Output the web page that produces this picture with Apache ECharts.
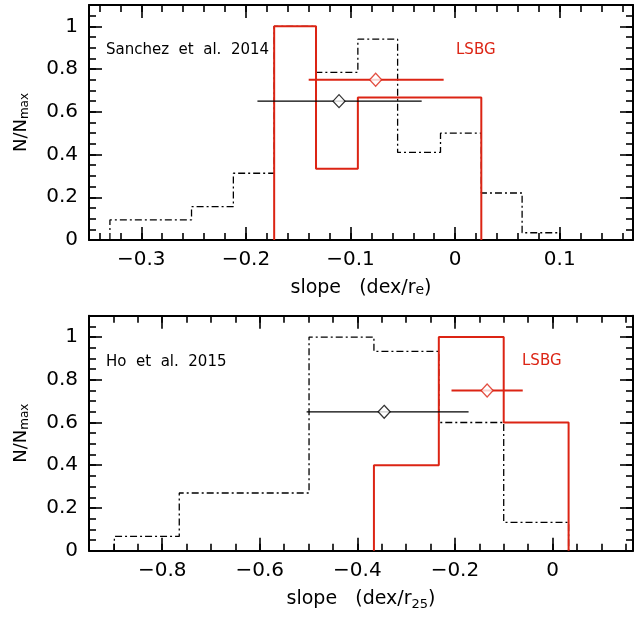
<!DOCTYPE html>
<html>
<head>
<meta charset="utf-8">
<script src="https://cdn.jsdelivr.net/npm/echarts@6/dist/echarts.min.js"></script>
<style>
html,body{margin:0;padding:0;background:#fff;}
#chart{width:635px;height:619px;}
</style>
</head>
<body>
<div id="chart"></div>
<script>
// ---------- data ----------
// Top panel (Sanchez et al. 2014)
const topBlackEdges = [-0.330, -0.252, -0.212, -0.173, -0.133, -0.093, -0.055, -0.014, 0.025, 0.064, 0.100];
const topBlackHeights = [0.094, 0.156, 0.3125, 1.0, 0.785, 0.94, 0.41, 0.50, 0.22, 0.034];
const topRedEdges = [-0.173, -0.133, -0.093, 0.025];
const topRedHeights = [1.0, 0.333, 0.667];
const topBlackErr = {lo: -0.189, mid: -0.111, hi: -0.032, y: 0.65};
const topRedErr = {lo: -0.140, mid: -0.076, hi: -0.011, y: 0.75};
const topXTicks = [-0.3, -0.2, -0.1, 0, 0.1];

// Bottom panel (Ho et al. 2015)
const botBlackEdges = [-0.898, -0.765, -0.499, -0.366, -0.233, -0.100, 0.033];
const botBlackHeights = [0.067, 0.27, 1.0, 0.933, 0.60, 0.133];
const botRedEdges = [-0.366, -0.233, -0.100, 0.033];
const botRedHeights = [0.40, 1.0, 0.60];
const botBlackErr = {lo: -0.504, mid: -0.345, hi: -0.172, y: 0.65};
const botRedErr = {lo: -0.207, mid: -0.134, hi: -0.061, y: 0.75};
const botXTicks = [-0.8, -0.6, -0.4, -0.2, 0];

const yTicks = [0, 0.2, 0.4, 0.6, 0.8, 1];

// ---------- helpers ----------
const RED = '#dc2414';
const FONT = 'DejaVu Sans';
function histPts(edges, h) {
  const pts = [[edges[0], 0]];
  for (let i = 0; i < h.length; i++) {
    pts.push([edges[i], h[i]]);
    pts.push([edges[i + 1], h[i]]);
  }
  pts.push([edges[edges.length - 1], 0]);
  return pts;
}
function steps(a, b, s) {
  const out = [];
  const n = Math.round((b - a) / s);
  for (let i = 0; i <= n; i++) out.push(+(a + i * s).toFixed(4));
  return out;
}
function fmt(v) {
  if (Math.abs(v) < 1e-9) return '0';
  const s = String(Math.abs(+v.toFixed(2)));
  return (v < 0 ? '\u2212' : '') + s;
}

const panels = [
  {top: 5, xmin: -0.35, xmax: 0.17, majors: topXTicks, minors: steps(-0.34, 0.16, 0.02),
   bE: topBlackEdges, bH: topBlackHeights, rE: topRedEdges, rH: topRedHeights,
   bErr: topBlackErr, rErr: topRedErr,
   name: '{a|slope   (dex/r}{e|e}{a|)}', nameGap: 39},
  {top: 315.7, xmin: -0.95, xmax: 0.165, majors: botXTicks, minors: steps(-0.95, 0.15, 0.05),
   bE: botBlackEdges, bH: botBlackHeights, rE: botRedEdges, rH: botRedHeights,
   bErr: botBlackErr, rErr: botRedErr,
   name: '{a|slope   (dex/r}{s|25}{a|)}', nameGap: 37}
];
const yMinors = steps(0, 1.1, 0.05);

const grid = [], xAxis = [], yAxis = [], series = [];
const axLine = {show: true, onZero: false, lineStyle: {color: '#000', width: 2}};
const noLine = {show: false, onZero: false};
const tickStyle = {color: '#000', width: 1.6};
panels.forEach((p, gi) => {
  grid.push({left: 89, top: p.top, width: 544, height: 235});
  const xBase = {type: 'value', gridIndex: gi, min: p.xmin, max: p.xmax, splitLine: {show: false}};
  const xb = xAxis.length;
  xAxis.push(Object.assign({}, xBase, {
    position: 'bottom', axisLine: axLine,
    axisTick: {show: true, inside: true, length: 13, customValues: p.majors, lineStyle: tickStyle},
    axisLabel: {show: true, customValues: p.majors, formatter: fmt, margin: 10, color: '#000', fontSize: 20, fontFamily: FONT},
    name: p.name, nameLocation: 'middle', nameGap: p.nameGap,
    nameTextStyle: {color: '#000', rich: {
      a: {fontSize: 19, fontFamily: FONT, color: '#000'},
      e: {fontSize: 14, fontFamily: FONT, color: '#000', padding: [4, 0, 0, 0]},
      s: {fontSize: 13, fontFamily: FONT, color: '#000', padding: [10, 0, 0, 0]}
    }}
  }));
  xAxis.push(Object.assign({}, xBase, {
    position: 'bottom', axisLine: noLine,
    axisTick: {show: true, inside: true, length: 7, customValues: p.minors, lineStyle: tickStyle},
    axisLabel: {show: false}
  }));
  xAxis.push(Object.assign({}, xBase, {
    position: 'top', axisLine: axLine,
    axisTick: {show: true, inside: true, length: 13, customValues: p.majors, lineStyle: tickStyle},
    axisLabel: {show: false}
  }));
  xAxis.push(Object.assign({}, xBase, {
    position: 'top', axisLine: noLine,
    axisTick: {show: true, inside: true, length: 7, customValues: p.minors, lineStyle: tickStyle},
    axisLabel: {show: false}
  }));
  const yBase = {type: 'value', gridIndex: gi, min: 0, max: 1.1, splitLine: {show: false}};
  const yb = yAxis.length;
  yAxis.push(Object.assign({}, yBase, {
    position: 'left', axisLine: axLine,
    axisTick: {show: true, inside: true, length: 13, customValues: yTicks, lineStyle: tickStyle},
    axisLabel: {show: true, customValues: yTicks, formatter: fmt, margin: 11, color: '#000', fontSize: 20, fontFamily: FONT},
    name: '{a|N/N}{s|max}', nameLocation: 'middle', nameGap: 58, nameRotate: 90,
    nameTextStyle: {color: '#000', rich: {
      a: {fontSize: 18, fontFamily: FONT, color: '#000'},
      s: {fontSize: 12, fontFamily: FONT, color: '#000', padding: [8, 0, 0, 0]}
    }}
  }));
  yAxis.push(Object.assign({}, yBase, {
    position: 'left', axisLine: noLine,
    axisTick: {show: true, inside: true, length: 7, customValues: yMinors, lineStyle: tickStyle},
    axisLabel: {show: false}
  }));
  yAxis.push(Object.assign({}, yBase, {
    position: 'right', axisLine: axLine,
    axisTick: {show: true, inside: true, length: 13, customValues: yTicks, lineStyle: tickStyle},
    axisLabel: {show: false}
  }));
  yAxis.push(Object.assign({}, yBase, {
    position: 'right', axisLine: noLine,
    axisTick: {show: true, inside: true, length: 7, customValues: yMinors, lineStyle: tickStyle},
    axisLabel: {show: false}
  }));

  const common = {xAxisIndex: xb, yAxisIndex: yb, animation: false, silent: true};
  series.push(Object.assign({}, common, {
    type: 'line', data: histPts(p.bE, p.bH), symbol: 'none', z: 2,
    lineStyle: {color: '#000', width: 1.3, type: [7, 3, 2, 3]}
  }));
  series.push(Object.assign({}, common, {
    type: 'line', data: histPts(p.rE, p.rH), symbol: 'none', z: 3,
    lineStyle: {color: RED, width: 2}
  }));
  series.push(Object.assign({}, common, {
    type: 'line', data: [[p.bErr.lo, p.bErr.y], [p.bErr.hi, p.bErr.y]], symbol: 'none', z: 4,
    lineStyle: {color: '#000', width: 1.3}
  }));
  series.push(Object.assign({}, common, {
    type: 'line', data: [[p.rErr.lo, p.rErr.y], [p.rErr.hi, p.rErr.y]], symbol: 'none', z: 4,
    lineStyle: {color: RED, width: 2}
  }));
  series.push(Object.assign({}, common, {
    type: 'scatter', data: [[p.bErr.mid, p.bErr.y]], symbol: 'diamond', symbolSize: [12, 13], z: 5,
    itemStyle: {color: '#fff', borderColor: '#000', borderWidth: 1.3}
  }));
  series.push(Object.assign({}, common, {
    type: 'scatter', data: [[p.rErr.mid, p.rErr.y]], symbol: 'diamond', symbolSize: [12, 13], z: 5,
    itemStyle: {color: '#fff', borderColor: RED, borderWidth: 1.3}
  }));
});

const chart = echarts.init(document.getElementById('chart'), null, {renderer: 'canvas'});
chart.setOption({
  animation: false,
  backgroundColor: '#fff',
  grid, xAxis, yAxis, series,
  graphic: [
    {type: 'text', left: 106, top: 43, style: {text: 'Sanchez  et  al.  2014', fill: '#000', fontSize: 15, fontFamily: FONT}},
    {type: 'text', left: 456, top: 43, style: {text: 'LSBG', fill: RED, fontSize: 15, fontFamily: FONT}},
    {type: 'text', left: 106, top: 355, style: {text: 'Ho  et  al.  2015', fill: '#000', fontSize: 15, fontFamily: FONT}},
    {type: 'text', left: 522, top: 354, style: {text: 'LSBG', fill: RED, fontSize: 15, fontFamily: FONT}}
  ]
});
</script>
</body>
</html>
